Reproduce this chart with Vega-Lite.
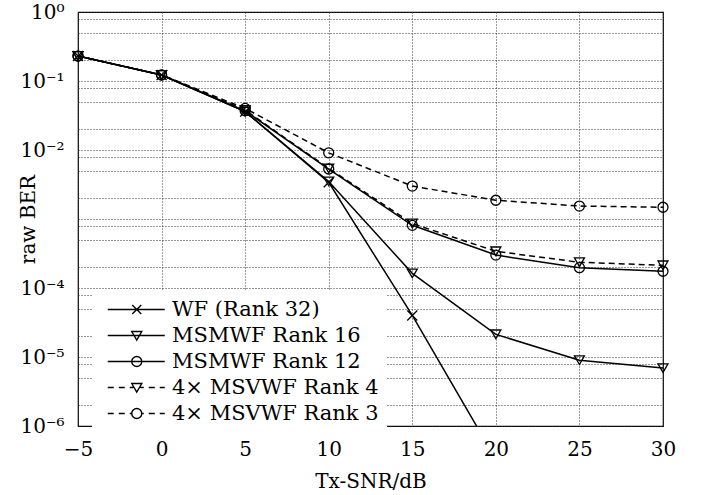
{
  "$schema": "https://vega.github.io/schema/vega-lite/v6.json",
  "width": 585,
  "height": 414,
  "autosize": {"type": "none"},
  "padding": {"left": 78, "top": 12, "right": 38, "bottom": 69},
  "background": "white",
  "config": {
    "view": {"stroke": "black", "strokeWidth": 1.2},
    "font": "DejaVu Serif",
    "axis": {
      "labelFont": "DejaVu Serif",
      "titleFont": "DejaVu Serif",
      "labelFontSize": 20,
      "titleFontSize": 20,
      "titleFontWeight": "normal",
      "labelColor": "black",
      "titleColor": "black",
      "grid": true,
      "gridDash": [1, 2],
      "gridColor": "#333333",
      "gridOpacity": 1,
      "gridWidth": 1,
      "ticks": false,
      "domain": false
    }
  },
  "data": {
    "values": [
      {"snr": -5, "ber": 0.23, "s": "WF (Rank 32)"},
      {"snr": 0, "ber": 0.122, "s": "WF (Rank 32)"},
      {"snr": 5, "ber": 0.036, "s": "WF (Rank 32)"},
      {"snr": 10, "ber": 0.0034, "s": "WF (Rank 32)"},
      {"snr": 15, "ber": 0.00004, "s": "WF (Rank 32)"},
      {"snr": 20, "ber": 0.00000033, "s": "WF (Rank 32)"},
      {"snr": -5, "ber": 0.23, "s": "MSMWF Rank 16"},
      {"snr": 0, "ber": 0.122, "s": "MSMWF Rank 16"},
      {"snr": 5, "ber": 0.036, "s": "MSMWF Rank 16"},
      {"snr": 10, "ber": 0.0035, "s": "MSMWF Rank 16"},
      {"snr": 15, "ber": 0.000163, "s": "MSMWF Rank 16"},
      {"snr": 20, "ber": 0.0000213, "s": "MSMWF Rank 16"},
      {"snr": 25, "ber": 0.000009, "s": "MSMWF Rank 16"},
      {"snr": 30, "ber": 0.0000069, "s": "MSMWF Rank 16"},
      {"snr": -5, "ber": 0.23, "s": "MSMWF Rank 12"},
      {"snr": 0, "ber": 0.122, "s": "MSMWF Rank 12"},
      {"snr": 5, "ber": 0.037, "s": "MSMWF Rank 12"},
      {"snr": 10, "ber": 0.0053, "s": "MSMWF Rank 12"},
      {"snr": 15, "ber": 0.00081, "s": "MSMWF Rank 12"},
      {"snr": 20, "ber": 0.0003, "s": "MSMWF Rank 12"},
      {"snr": 25, "ber": 0.000197, "s": "MSMWF Rank 12"},
      {"snr": 30, "ber": 0.000175, "s": "MSMWF Rank 12"},
      {"snr": -5, "ber": 0.23, "s": "4× MSVWF Rank 4"},
      {"snr": 0, "ber": 0.122, "s": "4× MSVWF Rank 4"},
      {"snr": 5, "ber": 0.038, "s": "4× MSVWF Rank 4"},
      {"snr": 10, "ber": 0.0054, "s": "4× MSVWF Rank 4"},
      {"snr": 15, "ber": 0.00086, "s": "4× MSVWF Rank 4"},
      {"snr": 20, "ber": 0.00034, "s": "4× MSVWF Rank 4"},
      {"snr": 25, "ber": 0.000236, "s": "4× MSVWF Rank 4"},
      {"snr": 30, "ber": 0.000213, "s": "4× MSVWF Rank 4"},
      {"snr": -5, "ber": 0.23, "s": "4× MSVWF Rank 3"},
      {"snr": 0, "ber": 0.123, "s": "4× MSVWF Rank 3"},
      {"snr": 5, "ber": 0.04, "s": "4× MSVWF Rank 3"},
      {"snr": 10, "ber": 0.0091, "s": "4× MSVWF Rank 3"},
      {"snr": 15, "ber": 0.003, "s": "4× MSVWF Rank 3"},
      {"snr": 20, "ber": 0.00187, "s": "4× MSVWF Rank 3"},
      {"snr": 25, "ber": 0.00154, "s": "4× MSVWF Rank 3"},
      {"snr": 30, "ber": 0.00148, "s": "4× MSVWF Rank 3"}
    ]
  },
  "encoding": {
    "x": {
      "field": "snr",
      "type": "quantitative",
      "scale": {"domain": [-5, 30], "nice": false, "zero": false},
      "axis": {"values": [-5, 0, 5, 10, 15, 20, 25, 30], "title": "Tx-SNR/dB", "labelPadding": 13, "titlePadding": 12, "labelFlush": false}
    },
    "y": {
      "field": "ber",
      "type": "quantitative",
      "scale": {"type": "log", "domain": [0.000001, 1], "nice": false},
      "axis": {
        "title": "raw BER",
        "titleX": -50,
        "titleY": 207,
        "titleAlign": "center",
        "titleBaseline": "middle",
        "labelPadding": 14,
        "labelOverlap": false,
        "labelFlush": false,
        "values": [0.000001, 0.000002, 0.000005, 0.000008, 0.00001, 0.00002, 0.00005, 0.00008, 0.0001, 0.0002, 0.0005, 0.0008, 0.001, 0.002, 0.005, 0.008, 0.01, 0.02, 0.05, 0.08, 0.1, 0.2, 0.5, 0.8, 1],
        "labelExpr": "abs(log(datum.value)/LN10 - round(log(datum.value)/LN10)) > 0.01 ? '' : ['10⁰','10⁻¹','10⁻²','','10⁻⁴','10⁻⁵','10⁻⁶'][-round(log(datum.value)/LN10)]"
      }
    }
  },
  "layer": [
    {
      "transform": [{"filter": "indexof(datum.s, 'MSVWF') < 0"}],
      "mark": {"type": "line", "color": "black", "strokeWidth": 1.5, "clip": true},
      "encoding": {"detail": {"field": "s"}}
    },
    {
      "transform": [{"filter": "indexof(datum.s, 'MSVWF') >= 0"}],
      "mark": {"type": "line", "color": "black", "strokeWidth": 1.5, "strokeDash": [6, 4], "clip": true},
      "encoding": {"detail": {"field": "s"}}
    },
    {
      "transform": [{"filter": "datum.ber >= 0.000001"}],
      "mark": {"type": "point", "filled": false, "color": "black", "strokeWidth": 1.3, "size": 100, "opacity": 1},
      "encoding": {
        "shape": {
          "field": "s",
          "type": "nominal",
          "scale": {
            "domain": ["WF (Rank 32)", "MSMWF Rank 16", "MSMWF Rank 12", "4× MSVWF Rank 4", "4× MSVWF Rank 3"],
            "range": ["M-1,-1L1,1M-1,1L1,-1", "triangle-down", "circle", "triangle-down", "circle"]
          },
          "legend": null
        }
      }
    },
    {
      "transform": [{"filter": "datum.ber > 10"}],
      "mark": {"type": "point", "filled": false, "color": "black", "strokeWidth": 1.4, "size": 100, "opacity": 1},
      "encoding": {
        "shape": {
          "field": "s",
          "type": "nominal",
          "scale": {
            "domain": ["WF (Rank 32)", "MSMWF Rank 16", "MSMWF Rank 12", "4× MSVWF Rank 4", "4× MSVWF Rank 3"],
            "range": [
              "M-0.55,0H10.85M4.35,-0.9L6.15,0.9M4.35,0.9L6.15,-0.9",
              "M-0.55,0H10.85M4.25,-0.8L6.25,-0.8L5.25,0.9Z",
              "M-0.55,0H10.85M4.25,0A1,1 0 1,0 6.25,0A1,1 0 1,0 4.25,0Z",
              "M-0.55,0H0.65M1.65,0H2.85M3.85,0H4.5M6.0,0H6.65M7.65,0H8.85M9.85,0H10.85M4.25,-0.8L6.25,-0.8L5.25,0.9Z",
              "M-0.55,0H0.65M1.65,0H2.85M3.85,0H4.25M6.25,0H6.65M7.65,0H8.85M9.85,0H10.85M4.25,0A1,1 0 1,0 6.25,0A1,1 0 1,0 4.25,0Z"
            ]
          },
          "legend": {
            "title": null,
            "orient": "none",
            "legendX": 14,
            "legendY": 279,
            "padding": 8,
            "fillColor": "white",
            "strokeColor": null,
            "labelFont": "DejaVu Serif",
            "labelFontSize": 21,
            "labelColor": "black",
            "labelOffset": 51,
            "labelLimit": 400,
            "rowPadding": 4,
            "symbolSize": 100,
            "symbolStrokeWidth": 1.4,
            "symbolStrokeColor": "black",
            "symbolFillColor": "transparent"
          }
        }
      }
    }
  ],
  "resolve": {"scale": {"shape": "independent"}, "legend": {"shape": "independent"}}
}
